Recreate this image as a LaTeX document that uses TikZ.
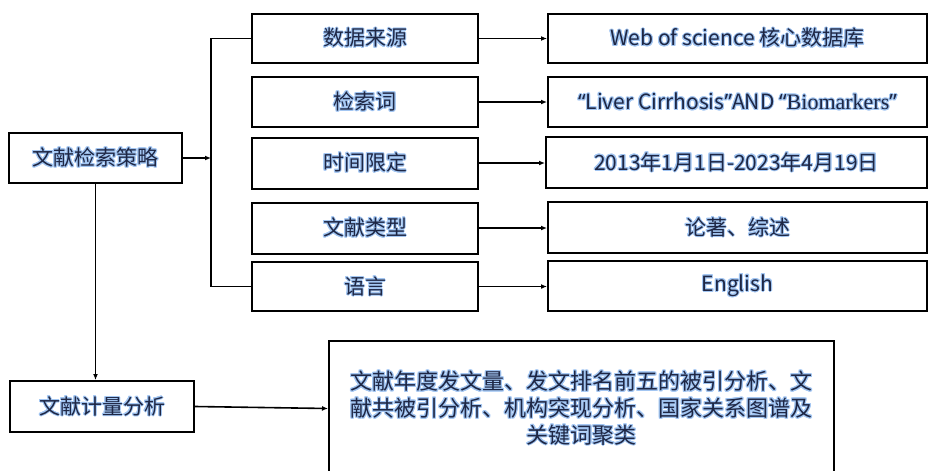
\documentclass[tikz,border=0pt]{standalone}
\usepackage{fontspec}
\setmainfont{Noto Sans CJK SC}
\newfontfamily\serifpart{Liberation Serif}
\newfontfamily\latinpart{Noto Sans}
\usepackage[copies]{contour}
\contourlength{1.0pt}
\contournumber{16}
\usetikzlibrary{arrows.meta}
\definecolor{ink}{HTML}{1E2745}
\definecolor{glow}{HTML}{A3C6F2}
\newcommand{\gl}[1]{\contour{glow}{#1}}
\tikzset{
  box/.style={draw, line width=2pt, inner sep=0pt, text=ink, font=\fontsize{21}{24}\selectfont},
  arr/.style={line width=1.6pt, -{Latex[length=6pt,width=5pt]}},
  ln/.style={line width=1.6pt},
}
\begin{document}
\begin{tikzpicture}[x=1pt,y=-1pt]
\useasboundingbox (0,0) rectangle (929,471);
\clip (0,0) rectangle (929,471);
% left boxes
\node[box, minimum width=173pt, minimum height=50pt] (s1) at (95.5,158) {\gl{文献检索策略}};
\node[box, minimum width=184pt, minimum height=51pt] (s2) at (102,406.5) {\gl{文献计量分析}};
% middle boxes
\node[box, minimum width=226pt, minimum height=49pt] (m1) at (365,38.5) {\gl{数据来源}};
\node[box, minimum width=226pt, minimum height=50pt] (m2) at (365,102) {\gl{检索词}};
\node[box, minimum width=226pt, minimum height=51pt] (m3) at (365,163) {\gl{时间限定}};
\node[box, minimum width=226pt, minimum height=51pt] (m4) at (365,228) {\gl{文献类型}};
\node[box, minimum width=226pt, minimum height=49pt] (m5) at (365,286.5) {\gl{语言}};
% right boxes
\node[box, minimum width=379pt, minimum height=49pt] (r1) at (737.5,38.5) {\gl{Web of science 核心数据库}};
\node[box, minimum width=379pt, minimum height=50pt] (r2) at (737.5,102) {\gl{{\latinpart “}Liver Cirrhosis{\latinpart ”}AND {\latinpart “}{\serifpart\fontsize{22}{24}\selectfont Biomarkers}{\latinpart ”}}};
\node[box, minimum width=381pt, minimum height=51pt] (r3) at (736.5,162.5) {\gl{2013年1月1日-2023年4月19日}};
\node[box, minimum width=379pt, minimum height=51pt] (r4) at (737.5,227.5) {\gl{论著、综述}};
\node[box, minimum width=379pt, minimum height=50pt] (r5) at (737.5,286) {\gl{English}};
% big box
\node[box, minimum width=505pt, minimum height=135pt, align=center,
      font=\fontsize{22}{26.7}\selectfont] (big) at (581.5,408.5)
  {\gl{文献年度发文量、发文排名前五的被引分析、文}\\
   \gl{献共被引分析、机构突现分析、国家关系图谱及}\\
   \gl{关键词聚类}};
% connectors
\coordinate (bus) at (211,158);
\draw[ln] (m1.west) -| (bus) |- (m5.west);
\draw[arr] (s1.east) -- (bus);
\foreach \i in {1,2,3,4,5} {\draw[arr] (m\i.east) -- (m\i.east -| r\i.west);}
\draw[arr] (s1.south) -- (s1.south |- s2.north);
\draw[arr] (s2.east) -- (big.west);
\end{tikzpicture}
\end{document}
